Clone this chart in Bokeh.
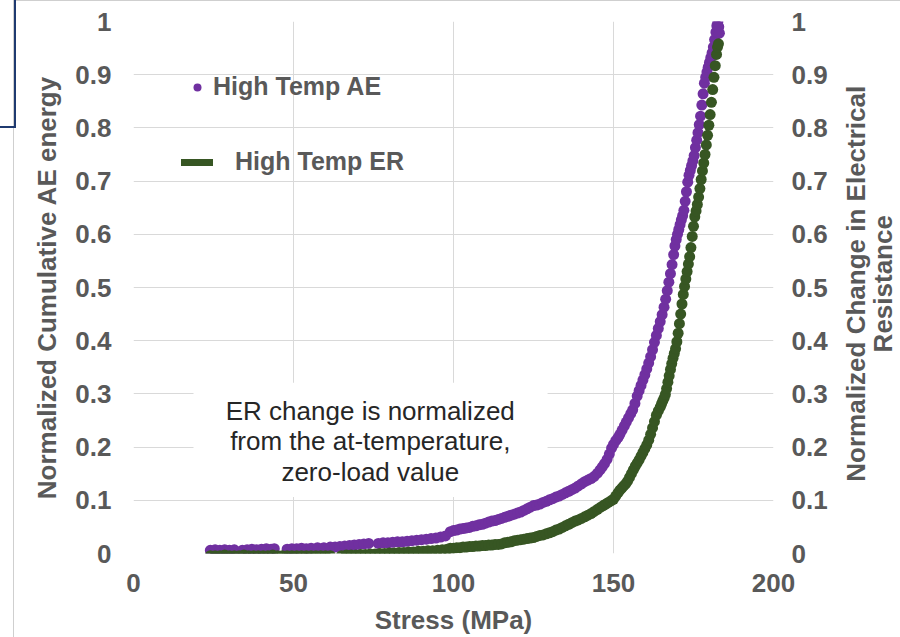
import math
from bokeh.plotting import figure
from bokeh.layouts import row
from bokeh.models import (Range1d, LinearAxis, FixedTicker, CustomJSTickFormatter,
                          Legend, LegendItem, Label)
from bokeh.core.properties import value
from bokeh.embed import file_html
from bokeh.resources import INLINE

# ---------------- data ----------------
ae_stress = [24.0, 25.5, 27.0, 28.5, 30.0, 31.5, 34.0, 35.5, 37.0, 38.5, 40.0, 41.5, 43.0, 44.0,
             48.0, 49.5, 51.0, 52.5, 54.0, 55.5, 57.5, 59.5,
             61.5, 63.0, 64.5, 66.0, 67.5, 69.0, 70.5, 72.0, 73.5,
             76.5, 78.0, 79.5, 81.0, 82.5, 84.0, 85.5, 87.0, 88.5, 90.0, 91.5, 93.0, 94.5,
             96.0, 97.5, 99.0, 100.0, 101.0, 102.0, 103.0, 104.0, 105.0, 106.0, 107.0, 108.0,
             109.0, 110.0, 111.0, 112.0, 113.0, 114.0, 115.0, 116.0, 117.0, 118.0, 119.0, 120.0,
             121.0, 122.0, 123.0, 124.0, 125.0, 126.0, 127.0, 128.0, 129.0, 130.0, 131.0, 132.0,
             133.0, 134.0, 135.0, 136.0, 137.0, 138.0, 139.0, 140.0, 141.0, 142.0, 143.0, 144.0,
             145.0, 145.8, 146.5, 147.2, 148.0, 148.7, 149.4, 150.0, 150.7, 151.4, 152.0, 152.7,
             153.4, 154.0, 154.7, 155.4, 156.0, 156.7, 157.4, 158.0, 158.6, 159.2, 159.8, 160.4,
             161.0, 161.6, 162.2, 162.8, 163.4, 164.0, 164.6, 165.2, 165.8, 166.3, 166.8, 167.3,
             167.8, 168.3, 168.8, 169.2, 169.6, 170.0, 170.4, 170.8, 171.2, 171.6, 172.0, 172.4,
             172.8, 173.2, 173.6, 174.0, 174.4, 174.8, 175.2, 175.6, 176.0, 176.4, 176.8, 177.2,
             177.6, 178.0, 178.4, 178.8, 179.2, 179.6, 180.0, 180.4, 180.8, 181.2, 181.6, 182.0,
             182.3, 182.6, 182.9, 183.1]
ae_energy = [0.006, 0.007, 0.006, 0.007, 0.006, 0.007, 0.006, 0.007, 0.008, 0.007, 0.008, 0.009, 0.008, 0.009,
             0.008, 0.009, 0.009, 0.010, 0.009, 0.010, 0.011, 0.011,
             0.012, 0.012, 0.013, 0.014, 0.015, 0.016, 0.017, 0.018, 0.019,
             0.019, 0.020, 0.020, 0.021, 0.022, 0.022, 0.023, 0.024, 0.025, 0.026, 0.027, 0.028, 0.029,
             0.031, 0.033, 0.041, 0.043, 0.044, 0.046, 0.047, 0.048, 0.049, 0.051, 0.052, 0.054,
             0.055, 0.057, 0.059, 0.061, 0.062, 0.064, 0.066, 0.068, 0.070, 0.072, 0.074, 0.076,
             0.078, 0.081, 0.084, 0.087, 0.090, 0.091, 0.093, 0.096, 0.098, 0.101, 0.103, 0.106,
             0.108, 0.111, 0.114, 0.117, 0.120, 0.123, 0.127, 0.131, 0.135, 0.138, 0.141, 0.145,
             0.151, 0.157, 0.163, 0.169, 0.177, 0.187, 0.198, 0.205, 0.212, 0.218, 0.224, 0.232,
             0.240, 0.247, 0.255, 0.263, 0.270, 0.282, 0.296, 0.306, 0.316, 0.326, 0.336, 0.347,
             0.358, 0.370, 0.383, 0.397, 0.410, 0.423, 0.436, 0.449, 0.463, 0.478, 0.494, 0.510,
             0.526, 0.543, 0.562, 0.578, 0.590, 0.600, 0.609, 0.618, 0.627, 0.635, 0.645, 0.662,
             0.680, 0.698, 0.711, 0.720, 0.729, 0.738, 0.748, 0.763, 0.777, 0.791, 0.806, 0.822,
             0.843, 0.864, 0.884, 0.895, 0.905, 0.914, 0.923, 0.932, 0.941, 0.952, 0.966, 0.980,
             0.992, 0.999, 0.990, 0.978]

er_stress = [24.0, 25.5, 27.0, 28.5, 30.0, 31.5, 33.0, 34.5, 36.0, 37.5, 39.0, 40.5, 42.0, 43.5,
             45.0, 46.5, 48.0, 49.5, 51.0, 52.5, 54.0, 55.5, 57.0, 58.5, 60.0, 61.5,
             65.0, 66.5, 68.0, 69.5, 71.0, 72.5, 74.0, 75.5, 77.0, 78.5, 80.0, 81.5, 83.0, 84.5,
             86.0, 87.5, 89.0, 90.5, 92.0, 93.5, 95.0, 96.5, 98.0,
             99.0, 100.0, 101.0, 102.0, 103.0, 104.0, 105.0, 106.0, 107.0, 108.0, 109.0, 110.0,
             111.0, 112.0, 113.0, 114.0, 115.0, 116.0, 117.0, 118.0, 119.0, 120.0, 121.0, 122.0,
             123.0, 124.0, 125.0, 126.0, 127.0, 128.0, 129.0, 130.0, 131.0, 132.0, 133.0, 134.0,
             135.0, 136.0, 137.0, 138.0, 139.0, 140.0, 141.0, 142.0, 143.0, 144.0, 145.0, 146.0,
             146.8, 147.6, 148.4, 149.2, 150.0, 150.7, 151.4, 152.0, 152.6, 153.2, 153.8, 154.4,
             155.0, 155.6, 156.2, 156.8, 157.4, 158.0, 158.6, 159.2, 159.8, 160.4, 161.0, 161.6,
             162.2, 162.8, 163.4, 164.0, 164.6, 165.0, 165.4, 165.8, 166.2, 166.6, 167.0, 167.4,
             167.8, 168.2, 168.6, 169.0, 169.4, 169.8, 170.2, 170.6, 171.0, 171.4, 171.8, 172.2,
             172.6, 173.0, 173.4, 173.8, 174.2, 174.6, 175.0, 175.4, 175.8, 176.2, 176.6, 177.0,
             177.4, 177.8, 178.2, 178.6, 179.0, 179.4, 179.8, 180.2, 180.6, 181.0, 181.4, 181.8,
             182.2, 182.5, 182.8]
er_change = [-0.004, -0.004, -0.004, -0.003, -0.004, -0.004, -0.004, -0.003, -0.004, -0.004, -0.004, -0.004, -0.004, -0.003,
             -0.004, -0.004, -0.004, -0.004, -0.004, -0.004, -0.004, -0.004, -0.004, -0.004, -0.004, -0.004,
             -0.004, -0.003, -0.003, -0.003, -0.002, -0.002, -0.001, -0.001, 0.000, 0.000, 0.001, 0.001, 0.002, 0.002,
             0.003, 0.003, 0.004, 0.004, 0.005, 0.005, 0.006, 0.007, 0.008,
             0.010, 0.010, 0.011, 0.011, 0.012, 0.012, 0.013, 0.013, 0.014, 0.014, 0.015, 0.015,
             0.016, 0.016, 0.017, 0.017, 0.018, 0.020, 0.021, 0.022, 0.024, 0.025, 0.026, 0.027,
             0.028, 0.029, 0.030, 0.032, 0.034, 0.035, 0.037, 0.039, 0.041, 0.044, 0.046, 0.049,
             0.052, 0.055, 0.058, 0.061, 0.063, 0.066, 0.069, 0.072, 0.075, 0.079, 0.083, 0.087,
             0.090, 0.093, 0.096, 0.099, 0.102, 0.108, 0.114, 0.119, 0.123, 0.127, 0.131, 0.136,
             0.143, 0.150, 0.157, 0.164, 0.170, 0.176, 0.183, 0.190, 0.197, 0.204, 0.213, 0.224,
             0.236, 0.248, 0.260, 0.268, 0.275, 0.281, 0.287, 0.292, 0.299, 0.310, 0.322, 0.334,
             0.346, 0.357, 0.367, 0.376, 0.385, 0.398, 0.414, 0.432, 0.450, 0.469, 0.487, 0.502,
             0.516, 0.530, 0.544, 0.558, 0.575, 0.596, 0.615, 0.633, 0.644, 0.656, 0.670, 0.686,
             0.703, 0.719, 0.734, 0.750, 0.768, 0.786, 0.805, 0.825, 0.848, 0.872, 0.895, 0.917,
             0.938, 0.952, 0.958]

x_ticks = [0, 50, 100, 150, 200]
y_ticks = [0, 0.1, 0.2, 0.3, 0.4, 0.5, 0.6, 0.7, 0.8, 0.9, 1.0]
right_title_lines = ["Normalized Change in Electrical", "Resistance"]

# ---------------- styling ----------------
FONT = "Liberation Sans"
GREY = "#595959"
PURPLE = "#7030A0"
GREEN = "#375623"
FS = "26px"

p = figure(width=840, height=637, output_backend="svg", toolbar_location=None,
           x_range=Range1d(0, 200), y_range=Range1d(0, 1),
           min_border_left=133, min_border_right=67, min_border_top=21, min_border_bottom=80)
p.outline_line_color = None
p.background_fill_color = "white"
p.border_fill_color = "white"
p.extra_y_ranges = {"er": Range1d(0, 1)}

fmt = CustomJSTickFormatter(code="return Number.isInteger(tick) ? tick.toFixed(0) : tick.toFixed(1);")

def style_axis(ax):
    ax.major_tick_line_color = None
    ax.minor_tick_line_color = None
    ax.major_tick_out = 0
    ax.major_tick_in = 0
    ax.minor_tick_out = 0
    ax.axis_line_color = None
    ax.major_label_text_font = FONT
    ax.major_label_text_font_style = "bold"
    ax.major_label_text_font_size = FS
    ax.major_label_text_color = GREY
    ax.axis_label_text_font = FONT
    ax.axis_label_text_font_style = "bold"
    ax.axis_label_text_font_size = FS
    ax.axis_label_text_color = GREY

xa = p.xaxis[0]
style_axis(xa)
xa.ticker = FixedTicker(ticks=x_ticks)
xa.axis_label = "Stress (MPa)"
xa.major_label_standoff = 20
xa.axis_label_standoff = 10

ya = p.yaxis[0]
style_axis(ya)
ya.ticker = FixedTicker(ticks=y_ticks)
ya.formatter = fmt
ya.axis_label = "Normalized Cumulative AE energy"
ya.major_label_standoff = 22
ya.axis_label_standoff = 10

yr = LinearAxis(y_range_name="er", ticker=FixedTicker(ticks=y_ticks), formatter=fmt)
style_axis(yr)
yr.major_label_standoff = 18
p.add_layout(yr, "right")

p.xgrid.ticker = FixedTicker(ticks=x_ticks)
p.ygrid.ticker = FixedTicker(ticks=y_ticks)
p.xgrid.grid_line_color = "#d9d9d9"
p.ygrid.grid_line_color = "#d9d9d9"

# white note box behind the text (hides gridlines)
p.quad(left=[18.75], right=[129.4], bottom=[0.106], top=[0.321],
       fill_color="white", line_color=None)

r_ae = p.scatter(ae_stress, ae_energy, size=11, fill_color=PURPLE, line_color=None)
r_er = p.scatter(er_stress, er_change, size=11, fill_color=GREEN, line_color=None,
                 y_range_name="er")
r_er_leg = p.line(x=[float("nan")], y=[float("nan")], line_color=GREEN, line_width=7,
                  line_cap="round", y_range_name="er")

def mk_legend(item, loc, standoff):
    return Legend(items=[item], location=loc, padding=0, margin=0, spacing=0,
                  border_line_color=None, background_fill_alpha=0,
                  label_text_font=FONT, label_text_font_style="bold",
                  label_text_font_size="25px", label_text_color=GREY,
                  glyph_width=32, glyph_height=20, label_standoff=standoff, label_height=20)

p.add_layout(mk_legend(LegendItem(label="High Temp AE", renderers=[r_ae]), (48, 452), 0))
p.add_layout(mk_legend(LegendItem(label="High Temp ER", renderers=[r_er_leg]), (48, 377), 22))

note = Label(x=74, y=0.2109, text="ER change is normalized\nfrom the at-temperature,\nzero-load value",
             text_align="center", text_baseline="middle", text_font=FONT,
             text_font_size="26px", text_color="#262626", text_line_height=1.02)
p.add_layout(note)

# ---- narrow side panel holding the two-line right-hand axis title ----
side = figure(width=60, height=637, output_backend="svg", toolbar_location=None,
              x_range=Range1d(0, 60), y_range=Range1d(0, 637), min_border=0)
side.outline_line_color = None
side.axis.visible = False
side.grid.visible = False
side.text(x=[15, 42], y=[323, 323], text=right_title_lines, angle=math.pi / 2,
          text_align="center", text_baseline="middle", text_font=value(FONT),
          text_font_style="bold", text_font_size="26px", text_color=GREY)

layout = row(p, side, spacing=0)

html = file_html(layout, INLINE)
overlay = ('<div style="position:absolute;left:13px;top:0;width:900px;height:640px;'
           'border-left:1.5px solid #cfcfcf;border-top:1.5px solid #cfcfcf;pointer-events:none"></div>'
           '<div style="position:absolute;left:-2px;top:-2px;width:14px;height:126px;'
           'border:2px solid #1F3A70;pointer-events:none"></div>')
html = html.replace("<head>", "<head><style>body{margin:0;padding:0;overflow:hidden;}</style>", 1)
html = html.replace("</body>", overlay + "</body>", 1)
open("out.html", "w").write(html)
